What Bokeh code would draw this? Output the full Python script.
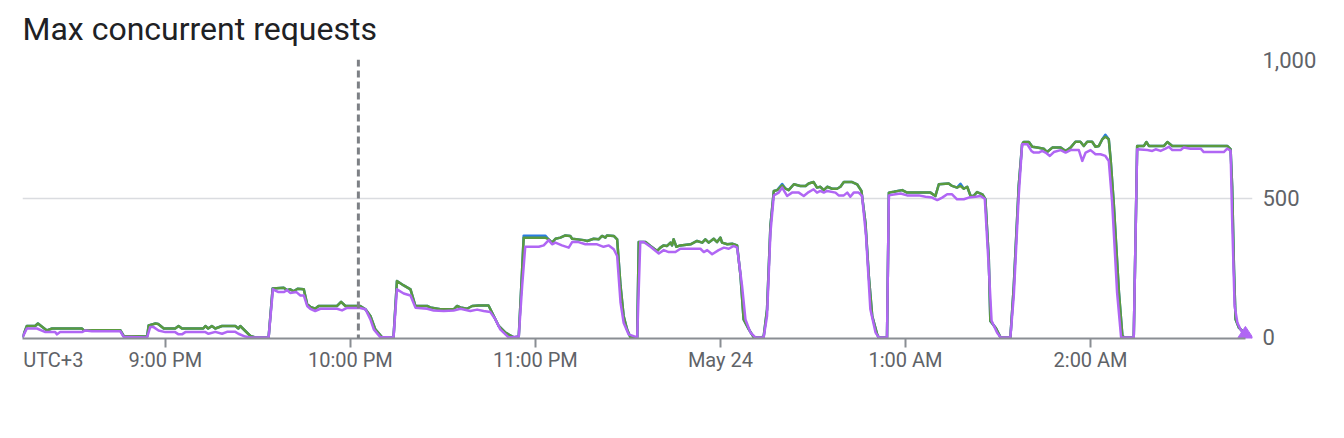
from bokeh.plotting import figure
from bokeh.models import Range1d, FixedTicker, Span, NumeralTickFormatter, LinearAxis
from bokeh.embed import file_html
from bokeh.resources import INLINE

# time axis: minutes after 8:00 PM (UTC+3)
tick_minutes = [60, 120, 180, 240, 300, 360]
tick_labels = ["9:00 PM", "10:00 PM", "11:00 PM", "May 24", "1:00 AM", "2:00 AM"]
zone_label_minute = 23.7
zone_label = "UTC+3"
event_minute = 122.6
y_ticks = [0, 500, 1000]

green_t = [13.7, 15.1, 17.8, 18.7, 21.6, 23.3, 33.0, 33.5, 45.4, 46.5, 54.1, 54.6, 56.8, 57.7, 59.5, 63.2,
           64.3, 65.4, 72.3, 73.0, 73.9, 75.1, 76.2, 78.4, 82.7, 83.7, 84.3, 87.6, 89.2, 93.5, 94.8,
           98.4, 99.5, 100.5, 101.6, 102.9, 104.9, 106.0, 107.0, 108.6, 109.7, 115.7, 117.0, 118.4, 123.2,
           124.9, 126.5, 128.1, 130.3, 134.0, 135.1, 137.3, 139.5, 141.1, 144.9, 145.9, 149.2, 153.5, 154.6,
           155.7, 157.8, 159.5, 161.6, 164.8, 166.5, 168.1, 170.3, 173.0, 174.6,
           175.7, 176.2, 183.2, 184.3, 185.4, 186.5, 188.1, 189.7, 191.3, 191.9, 195.7, 196.8, 198.9, 200.5,
           201.6, 202.7, 203.2, 205.4, 206.5, 207.6, 208.6, 209.7, 210.8, 213.0, 213.5, 215.7, 217.3, 219.5,
           220.5, 221.6, 222.7, 223.8, 224.3, 224.8, 225.7, 227.0, 230.3, 232.4, 234.1, 235.1, 236.2, 237.8,
           238.9, 240.0, 240.5, 242.2, 243.8, 245.4, 246.5, 247.5, 249.2, 250.8, 253.0,
           254.0, 255.1, 256.2, 257.3, 258.4, 260.0, 261.1, 262.1, 263.8, 265.9, 267.6, 268.6, 270.2, 271.3,
           272.4, 273.5, 274.6, 276.2, 277.8, 278.9, 280.0, 282.7, 284.3, 285.7, 287.0, 288.1, 289.2, 290.8,
           291.3, 294.0, 294.6, 296.2, 298.9, 300.5, 308.1, 309.7, 310.8, 314.0, 315.1, 316.7, 317.8, 318.9,
           320.0, 321.1, 322.1, 323.2, 324.9, 325.9, 327.0, 327.5, 329.2, 330.8,
           334.0, 335.1, 336.7, 337.8, 338.3, 340.0, 341.1, 342.7, 344.8, 345.9, 347.6, 350.3, 351.9, 353.5,
           355.1, 356.7, 357.8, 358.9, 360.5, 361.6, 362.7, 363.8, 364.8, 365.9, 366.5, 367.5, 369.2, 370.3,
           370.8, 374.0, 375.1, 377.3, 378.1, 378.9, 383.8, 384.9, 386.5, 393.5, 396.7, 404.3, 405.4, 405.9,
           406.5, 407.0, 408.1, 409.7]
green_v = [0, 41, 41, 50, 25, 32, 32, 26, 26, 5, 3, 43, 50, 48, 32, 32,
           41, 32, 32, 41, 32, 41, 32, 41, 41, 32, 41, 5, 0, 0, 176,
           179, 170, 173, 166, 175, 173, 119, 110, 103, 113, 113, 128, 113, 113,
           101, 77, 29, 0, 0, 203, 187, 173, 113, 113, 108, 101, 101, 113,
           108, 103, 113, 115, 115, 77, 41, 17, 0, 3,
           245, 359, 359, 353, 341, 355, 359, 367, 365, 355, 350, 347, 355, 353,
           365, 359, 367, 365, 353, 185, 77, 29, 0, 0, 343, 343, 329, 311,
           323, 331, 329, 341, 331, 353, 326, 331, 335, 347, 341, 353, 341, 355,
           343, 359, 341, 335, 337, 331, 221, 65, 29, 0, 0,
           2, 101, 401, 527, 530, 547, 535, 530, 551, 545, 545, 554, 559, 539,
           542, 530, 542, 535, 535, 542, 559, 559, 551, 527, 413, 221, 77, 11,
           0, 0, 521, 524, 530, 521, 521, 509, 551, 554, 545, 539, 545, 535,
           542, 509, 509, 523, 515, 497, 281, 59, 35, 0,
           0, 185, 545, 695, 703, 703, 686, 683, 679, 667, 683, 683, 671, 683,
           704, 704, 689, 704, 704, 686, 689, 713, 722, 713, 641, 485, 161, 7,
           0, 0, 689, 689, 703, 689, 689, 703, 689, 689, 689, 689, 677, 545,
           245, 65, 35, 17]
blue_v = [0, 41, 41, 50, 25, 32, 32, 26, 26, 5, 3, 43, 50, 48, 32, 32,
          41, 32, 32, 41, 32, 41, 32, 41, 41, 32, 41, 5, 0, 0, 176,
          179, 170, 173, 166, 175, 173, 119, 110, 103, 113, 113, 128, 113, 113,
          101, 77, 29, 0, 0, 203, 187, 173, 113, 113, 108, 101, 101, 113,
          108, 103, 113, 115, 115, 77, 41, 17, 0, 3,
          245, 366, 366, 353, 341, 355, 359, 367, 365, 355, 350, 347, 355, 353,
          365, 359, 367, 365, 353, 185, 77, 29, 0, 0, 343, 343, 329, 311,
          323, 331, 329, 341, 331, 353, 326, 331, 335, 347, 341, 353, 341, 355,
          343, 359, 341, 335, 337, 331, 221, 65, 29, 0, 0,
          2, 101, 401, 527, 530, 552, 535, 530, 551, 545, 545, 554, 559, 539,
          542, 530, 542, 535, 535, 542, 559, 559, 551, 527, 413, 221, 77, 11,
          0, 0, 521, 524, 530, 521, 521, 509, 551, 554, 545, 539, 553, 535,
          542, 509, 509, 523, 515, 497, 281, 59, 35, 0,
          0, 185, 545, 695, 703, 703, 686, 683, 679, 667, 683, 683, 671, 683,
          704, 704, 689, 704, 704, 686, 689, 713, 729, 713, 641, 485, 161, 7,
          0, 0, 689, 689, 703, 689, 689, 703, 689, 689, 689, 689, 677, 545,
          245, 65, 35, 17]

purple_t = [13.7, 15.1, 18.4, 21.1, 24.3, 24.9, 25.9, 33.0, 34.1, 36.2, 45.4, 46.5, 54.1, 55.1, 56.2, 57.8,
            60.0, 63.2, 64.3, 65.4, 66.5, 73.0, 74.0, 76.2, 78.4, 80.0, 82.7, 83.7, 85.9, 87.6, 93.5,
            94.9, 96.7, 98.4, 99.5, 100.5, 102.5, 103.8, 104.9, 106.0, 107.0, 108.6, 110.3, 115.7, 117.3,
            118.9, 123.2, 124.9, 126.5, 127.6, 129.7, 134.0, 135.1, 137.3, 139.5, 141.1, 144.9, 147.0, 150.3,
            153.5, 155.7, 158.9, 161.1, 163.2, 165.4, 167.0, 168.6, 171.3, 174.6,
            175.7, 176.7, 181.1, 182.7, 184.3, 185.4, 186.5, 188.6, 190.8, 191.9, 194.0, 196.2, 200.0, 202.1,
            203.8, 205.4, 206.5, 207.6, 208.6, 210.2, 213.0, 214.0, 215.1, 217.3, 220.0, 221.6, 223.2, 225.4,
            227.0, 233.5, 234.6, 235.7, 237.3, 239.4, 241.1, 242.7, 244.3, 245.4, 247.0, 248.1, 249.7, 251.3,
            254.0,
            255.1, 256.2, 257.3, 258.9, 260.0, 261.6, 263.2, 265.4, 267.0, 268.6, 270.2, 271.3, 272.4, 273.5,
            274.6, 277.3, 278.3, 280.0, 281.1, 282.1, 283.2, 284.8, 285.9, 287.2, 288.6, 290.3, 291.3, 294.0,
            294.6, 296.7, 298.4, 300.5, 304.3, 306.5, 308.6, 310.3, 311.9, 313.5, 315.1, 316.7, 318.9, 320.5,
            322.7, 324.3, 325.7, 327.0, 327.9, 329.7, 330.8,
            334.0, 335.1, 336.7, 337.8, 339.5, 340.8, 341.6, 343.2, 344.3, 345.4, 346.8, 348.1, 350.3, 351.9,
            353.5, 356.2, 357.3, 358.4, 360.0, 361.6, 363.2, 364.8, 365.9, 367.0, 368.6, 369.9, 374.0, 375.1,
            378.4, 380.0, 381.1, 382.7, 384.3, 385.4, 386.5, 389.2, 390.2, 392.4, 395.7, 396.7, 403.2, 404.3,
            405.4, 405.9, 406.7, 407.6, 408.6, 410.2]
purple_v = [0, 32, 32, 19, 19, 11, 19, 19, 25, 22, 22, 2, 0, 37, 37, 25,
            19, 19, 11, 11, 19, 19, 13, 20, 13, 20, 20, 13, 3, 0, 0,
            173, 163, 163, 170, 160, 163, 151, 151, 113, 103, 95, 103, 103, 97,
            106, 106, 101, 65, 29, 1, 0, 173, 158, 151, 107, 103, 97, 95,
            97, 103, 95, 100, 95, 91, 65, 29, 0, 3,
            185, 326, 326, 331, 350, 335, 341, 331, 323, 343, 343, 335, 335, 326,
            331, 317, 293, 125, 53, 11, 0, 343, 343, 326, 302, 314, 307, 307,
            319, 319, 307, 314, 299, 314, 323, 319, 329, 323, 185, 65, 18, 0,
            0,
            77, 377, 511, 521, 539, 509, 521, 521, 509, 523, 533, 521, 527, 521,
            527, 521, 511, 511, 521, 506, 521, 521, 509, 365, 101, 17, 0, 0,
            511, 515, 518, 511, 511, 506, 503, 494, 503, 515, 515, 497, 497, 503,
            506, 509, 499, 250, 60, 17, 0,
            0, 149, 509, 695, 695, 671, 665, 665, 671, 665, 653, 667, 674, 665,
            674, 674, 635, 665, 674, 659, 659, 653, 635, 485, 161, 0, 0, 677,
            674, 671, 677, 671, 679, 686, 674, 674, 683, 679, 679, 667, 667, 679,
            672, 425, 113, 53, 29, 0]

BLUE = "#2a7de1"
GREEN = "#5a9a3e"
PURPLE = "#b066f4"
AXIS_GRAY = "#8a8e93"
LABEL_GRAY = "#5f6368"

p = figure(width=1344, height=438, output_backend="svg", toolbar_location=None,
           x_range=Range1d(13.7, 412.5), y_range=Range1d(-4, 1000),
           y_axis_location="right",
           min_border_left=22, min_border_right=92, min_border_bottom=100, min_border_top=0)
p.outline_line_color = None
p.background_fill_color = "white"
p.border_fill_color = "white"

p.title.text = "Max concurrent requests"
p.title.text_font = "Roboto"
p.title.text_font_size = "32px"
p.title.text_font_style = "normal"
p.title.text_color = "#202124"
p.title.align = "left"
p.title.vertical_align = "top"
p.title.standoff = 19
p.title.offset = 0

# y axis on right
p.yaxis.ticker = FixedTicker(ticks=y_ticks)
p.yaxis.formatter = NumeralTickFormatter(format="0,0")
p.yaxis.axis_line_color = None
p.yaxis.major_tick_line_color = None
p.yaxis.minor_tick_line_color = None
p.yaxis.major_tick_out = 0
p.yaxis.major_tick_in = 0
p.yaxis.major_label_standoff = 10
p.yaxis.major_label_text_align = "left"
p.yaxis.major_label_text_font = "Roboto"
p.yaxis.major_label_text_font_size = "22px"
p.yaxis.major_label_text_color = LABEL_GRAY
p.ygrid.ticker = FixedTicker(ticks=[500, 1000])
p.ygrid.grid_line_color = "#dadce0"
p.ygrid.grid_line_width = 1.5
p.xgrid.visible = False

# x axis: line and tick marks only (nearest the frame)
xa = p.xaxis[0]
xa.ticker = FixedTicker(ticks=tick_minutes)
xa.bounds = (green_t[0], purple_t[-1])
xa.axis_line_color = AXIS_GRAY
xa.axis_line_width = 2
xa.major_tick_line_color = AXIS_GRAY
xa.major_tick_line_width = 2
xa.major_tick_out = 9
xa.major_tick_in = 0
xa.minor_tick_line_color = None
xa.major_label_standoff = 5
xa.major_label_text_font_size = "0px"
xa.major_label_text_alpha = 0

# second x axis carrying the labels, including the time-zone label
label_ticks = [zone_label_minute] + tick_minutes
lab_axis = LinearAxis(ticker=FixedTicker(ticks=label_ticks),
                      major_label_overrides={t: l for t, l in zip(label_ticks, [zone_label] + tick_labels)})
lab_axis.axis_line_color = None
lab_axis.major_tick_line_color = None
lab_axis.minor_tick_line_color = None
lab_axis.major_tick_out = 0
lab_axis.major_tick_in = 0
lab_axis.major_label_standoff = 0
lab_axis.major_label_text_font = "Roboto"
lab_axis.major_label_text_font_size = "20px"
lab_axis.major_label_text_color = LABEL_GRAY
p.add_layout(lab_axis, "below")

p.add_layout(Span(location=event_minute, dimension="height", line_color="#7d8085",
                  line_width=3, line_dash="7 4"))

p.line(green_t, blue_v, line_color=BLUE, line_width=2.5, line_join="round")
p.line(green_t, green_v, line_color=GREEN, line_width=2.5, line_join="round")
p.line(purple_t, purple_v, line_color=PURPLE, line_width=2.5, line_join="round")
p.scatter([purple_t[-1]], [purple_v[-1]], marker="diamond", size=22, color=PURPLE)

open("out.html", "w").write(file_html(p, INLINE))
